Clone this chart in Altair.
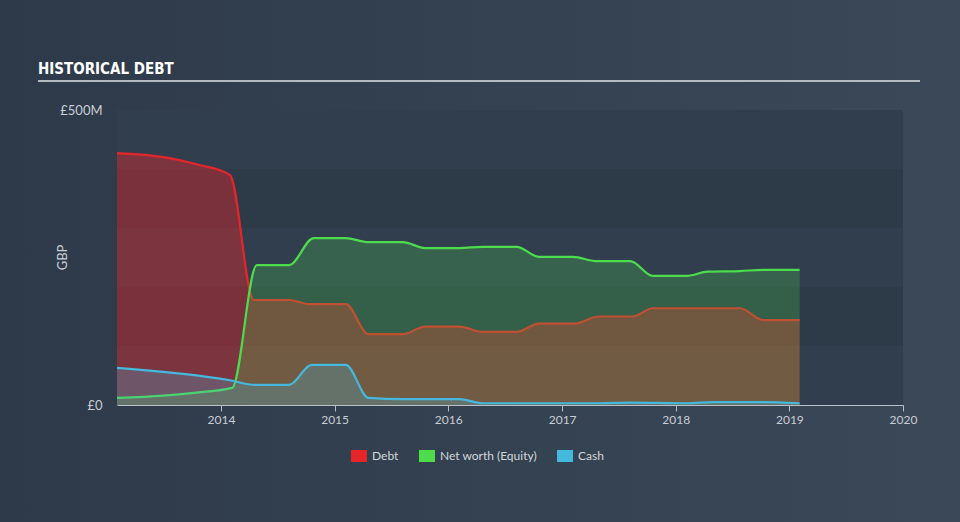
import altair as alt
import pandas as pd

# ---------------- data (GBP millions) ----------------
debt_dates = ["2013-02-01", "2013-07-01", "2013-10-15", "2014-01-30", "2014-04-16",
              "2014-08-08", "2014-10-12", "2015-02-06", "2015-04-20", "2015-08-08",
              "2015-10-19", "2016-02-06", "2016-04-20", "2016-08-08", "2016-10-19",
              "2017-02-13", "2017-04-27", "2017-08-15", "2017-10-19", "2018-07-27",
              "2018-10-08", "2019-02-03"]
debt_values = [427, 420, 408, 390, 178, 178, 171, 171, 120, 120, 133, 133, 124, 124,
               138, 138, 150, 150, 164, 164, 144, 144]

equity_dates = ["2013-02-01", "2013-07-01", "2013-10-15", "2014-02-06", "2014-04-26",
                "2014-08-08", "2014-10-26", "2015-02-06", "2015-04-20", "2015-08-08",
                "2015-10-19", "2016-02-06", "2016-04-20", "2016-08-08", "2016-10-19",
                "2017-02-06", "2017-04-20", "2017-08-08", "2017-10-19", "2018-02-06",
                "2018-04-13", "2018-07-27", "2018-10-08", "2019-02-03"]
equity_values = [12, 16, 21, 29, 237, 237, 283, 283, 276, 276, 266, 266, 268, 268,
                 251, 251, 244, 244, 219, 219, 226, 227, 229, 229]

cash_dates = ["2013-02-01", "2014-01-30", "2014-04-20", "2014-08-08", "2014-10-19",
              "2015-02-06", "2015-04-20", "2015-08-08", "2016-02-06", "2016-04-20",
              "2017-04-20", "2017-08-08", "2018-02-06", "2018-05-01", "2018-10-08",
              "2019-02-03"]
cash_values = [63, 42, 34, 34, 68, 68, 12, 10, 10, 3, 3, 4, 3, 5, 5, 3]

series_names = ["Debt", "Net worth (Equity)", "Cash"]
series_colors = ["#e4262b", "#4cdc4c", "#45b8de"]

x_domain = ["2013-02-01", "2020-01-01"]
year_ticks = [2014, 2015, 2016, 2017, 2018, 2019, 2020]
y_ticks = [0, 500]

band_lo = [0, 100, 200, 300, 400]
band_hi = [100, 200, 300, 400, 500]
band_fill = ["#313e4e", "#2d3a48", "#313e4e", "#2d3a48", "#313e4e"]

# ---------------- tables ----------------
rows = []
for name, ds, vs in [("Debt", debt_dates, debt_values),
                     ("Net worth (Equity)", equity_dates, equity_values),
                     ("Cash", cash_dates, cash_values)]:
    for d, v in zip(ds, vs):
        rows.append({"date": d, "value": v, "series": name})
df = pd.DataFrame(rows)
bands = pd.DataFrame({"lo": band_lo, "hi": band_hi, "shade": band_fill})

W, H = 786, 295
FONT = "Lato"
LBL = "#c9ced4"

xscale = alt.Scale(domain=x_domain)
yscale = alt.Scale(domain=[0, 500], nice=False)
cscale = alt.Scale(domain=series_names, range=series_colors)

x_axis = alt.Axis(values=[alt.DateTime(year=y) for y in year_ticks], format="%Y",
                  title=None, grid=False, domainColor="#b9bfc6", tickColor="#b9bfc6",
                  tickSize=6, labelColor=LBL, labelFont=FONT, labelFontSize=12,
                  labelPadding=3, labelFlush=False, zindex=1)
y_axis = alt.Axis(values=y_ticks, title="GBP", grid=False, ticks=False, domain=False,
                  labelExpr="datum.value == 0 ? '£0' : '£' + datum.value + 'M'",
                  labelColor=LBL, labelFont=FONT, labelFontSize=13, labelPadding=15,
                  titleColor=LBL, titleFont=FONT, titleFontSize=13,
                  titleFontWeight="normal", titleX=-55, titleY=147,
                  titleAlign="center", titleBaseline="middle", titleAngle=270,
                  zindex=1)

legend = alt.Legend(title=None, orient="none", legendX=234, legendY=338,
                    direction="horizontal", symbolType="M-1,-0.75H1V0.75H-1Z",
                    symbolSize=256, symbolStrokeWidth=0, symbolOpacity=1,
                    labelColor="#d3d7dc", labelFont=FONT, labelFontSize=12,
                    labelOffset=5, columnPadding=20, padding=0)

base = alt.Chart(df)
X = alt.X("date:T", scale=xscale, axis=x_axis)
Y = alt.Y("value:Q", scale=yscale, axis=y_axis, stack=None)


def sel(name):
    return base.transform_filter(alt.datum.series == name)


bg = alt.Chart(alt.Data(values=[{"a": 1}])).mark_rect(
    color=alt.Gradient(gradient="linear", x1=0, x2=1, y1=0, y2=0,
                       stops=[alt.GradientStop(color="#2e3a49", offset=0),
                              alt.GradientStop(color="#344251", offset=0.55),
                              alt.GradientStop(color="#3a4858", offset=1)])
).encode(x=alt.value(-117), x2=alt.value(843), y=alt.value(-110), y2=alt.value(412))

band_layer = alt.Chart(bands).mark_rect().encode(
    x=alt.value(0), x2=alt.value(W),
    y=alt.Y("lo:Q", scale=yscale, axis=y_axis), y2="hi:Q",
    fill=alt.Fill("shade:N", scale=None)
)

debt_area = sel("Debt").mark_area(interpolate="monotone", opacity=0.42).encode(
    x=X, y=Y, color=alt.Color("series:N", scale=cscale, legend=legend)
)


def area(name, op):
    return sel(name).mark_area(interpolate="monotone", opacity=op).encode(
        x=X, y=Y, color=alt.Color("series:N", scale=cscale, legend=None)
    )


def line(name):
    return sel(name).mark_line(interpolate="monotone", strokeWidth=2.2).encode(
        x=X, y=Y, color=alt.Color("series:N", scale=cscale, legend=None)
    )


title = alt.Chart(alt.Data(values=[{"t": "HISTORICAL DEBT"}])).mark_text(
    align="left", baseline="alphabetic", font="DejaVu Sans Condensed",
    fontWeight="bold", fontSize=15, color="#ffffff"
).encode(text="t:N", x=alt.value(-79), y=alt.value(-36))

underline = alt.Chart(alt.Data(values=[{"a": 1}])).mark_rule(
    color="#b4bac2", strokeWidth=2
).encode(x=alt.value(-79), x2=alt.value(803), y=alt.value(-29))

chart = alt.layer(
    bg, band_layer,
    debt_area, line("Debt"),
    area("Net worth (Equity)", 0.23), line("Net worth (Equity)"),
    area("Cash", 0.25), line("Cash"),
    title, underline
).properties(
    width=W, height=H,
    autosize=alt.AutoSizeParams(type="none"),
    padding={"left": 117, "top": 110, "right": 57, "bottom": 117},
    background="#323e4d"
).configure_view(strokeWidth=0)

chart.save("out.html", embed_options={"renderer": "svg", "actions": False})
